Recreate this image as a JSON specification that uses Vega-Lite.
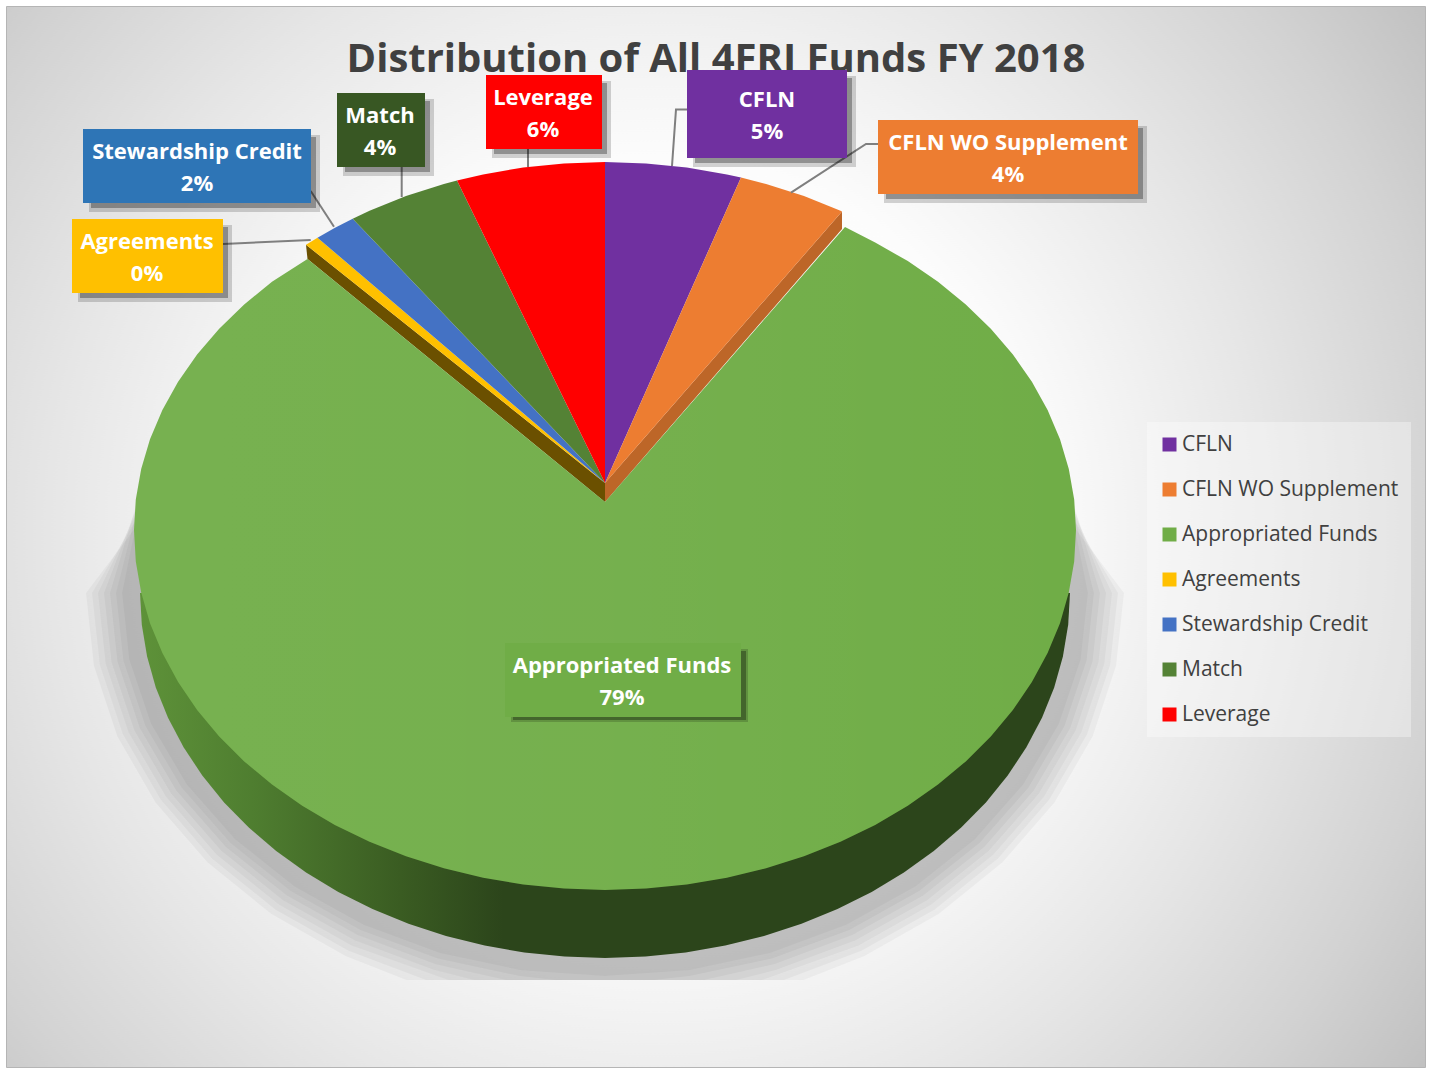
{
"$schema":"https://vega.github.io/schema/vega-lite/v6.json",
"width":1432,"height":1068,"padding":0,"autosize":{"type":"none"},
"background":"#ffffff",
"config":{"view":{"stroke":null},"legend":{"symbolStrokeWidth":0}},
"projection":{"type":"identity","scale":1,"translate":[0,0]},
"datasets":{
"panel":[{"type":"Feature","properties":{"name":"panel"},"geometry":{"type":"MultiPolygon","coordinates":[[[[6.5,6.5],[1425.5,6.5],[1425.5,1067.5],[6.5,1067.5],[6.5,6.5]]],[[[700,-120],[701,-120],[700,-120]]],[[[700,1188],[701,1188],[700,1188]]]]}}],
"floorShadow":[
{"type":"Feature","properties":{"name":"s18"},"geometry":{"type":"Polygon","coordinates":[[[1060,455],[1088,593],[1080.7,659.5],[1058.9,724],[1023.3,784.5],[975,839.2],[915.5,886.4],[846.5,924.7],[770.2,952.9],[688.8,970.2],[605,976],[521.2,970.2],[439.8,952.9],[363.5,924.7],[294.5,886.4],[235,839.2],[186.7,784.5],[151.1,724],[129.3,659.5],[122,593],[150,455],[1060,455]]]}},
{"type":"Feature","properties":{"name":"s24"},"geometry":{"type":"Polygon","coordinates":[[[1062,465],[1094,593],[1086.6,660.5],[1064.5,726],[1028.5,787.5],[979.6,843],[919.3,891],[849.5,929.9],[772.2,958.5],[689.9,976.1],[654,980],[556,980],[520.1,976.1],[437.8,958.5],[360.5,929.9],[290.7,891],[230.4,843],[181.5,787.5],[145.5,726],[123.4,660.5],[116,593],[148,465],[1062,465]]]}},
{"type":"Feature","properties":{"name":"s30"},"geometry":{"type":"Polygon","coordinates":[[[1065,475],[1100,593],[1092.5,661.6],[1070.2,728.1],[1033.7,790.5],[984.2,846.9],[923.2,895.6],[852.5,935.1],[774.3,964.2],[704,980],[506,980],[435.7,964.2],[357.5,935.1],[286.8,895.6],[225.8,846.9],[176.3,790.5],[139.8,728.1],[117.5,661.6],[110,593],[145,475],[1065,475]]]}},
{"type":"Feature","properties":{"name":"s36"},"geometry":{"type":"Polygon","coordinates":[[[1065,485],[1106,593],[1098.4,662.6],[1075.8,730.1],[1038.9,793.5],[988.8,850.8],[927,900.2],[855.5,940.3],[776.3,969.8],[736,980],[474,980],[433.7,969.8],[354.5,940.3],[283,900.2],[221.2,850.8],[171.1,793.5],[134.2,730.1],[111.6,662.6],[104,593],[145,485],[1065,485]]]}},
{"type":"Feature","properties":{"name":"s42"},"geometry":{"type":"Polygon","coordinates":[[[1065,495],[1112,593],[1104.3,663.7],[1081.4,732.2],[1044.1,796.5],[993.4,854.6],[930.9,904.8],[858.5,945.5],[761.7,980],[448.3,980],[351.5,945.5],[279.1,904.8],[216.6,854.6],[165.9,796.5],[128.6,732.2],[105.7,663.7],[98,593],[145,495],[1065,495]]]}},
{"type":"Feature","properties":{"name":"s48"},"geometry":{"type":"Polygon","coordinates":[[[1065,505],[1118,593],[1110.2,664.7],[1087.1,734.3],[1049.3,799.5],[998,858.5],[934.8,909.4],[861.5,950.7],[784,980],[426,980],[348.5,950.7],[275.2,909.4],[212,858.5],[160.7,799.5],[122.9,734.3],[99.8,664.7],[92,593],[145,505],[1065,505]]]}},
{"type":"Feature","properties":{"name":"s54"},"geometry":{"type":"Polygon","coordinates":[[[1065,515],[1124,593],[1116.1,665.8],[1092.7,736.3],[1054.5,802.5],[1002.6,862.3],[938.6,914],[864.5,955.9],[803.6,980],[406.4,980],[345.5,955.9],[271.4,914],[207.4,862.3],[155.5,802.5],[117.3,736.3],[93.9,665.8],[86,593],[145,515],[1065,515]]]}}
],
"rim":[{"type":"Feature","properties":{"name":"Appropriated Funds side"},"geometry":{"type":"Polygon","coordinates":[[[1070,593],[1068.2,624.8],[1062.9,656.4],[1054.2,687.5],[1042,717.8],[1026.4,747.3],[1007.7,775.5],[985.9,802.4],[961.2,827.6],[933.8,851.1],[903.9,872.6],[871.7,892],[837.5,909.1],[801.5,923.8],[764,936],[725.3,945.6],[685.7,952.5],[645.5,956.6],[605,958],[564.5,956.6],[524.3,952.5],[484.7,945.6],[446,936],[408.5,923.8],[372.5,909.1],[338.3,892],[306.1,872.6],[276.2,851.1],[248.8,827.6],[224.1,802.4],[202.3,775.5],[183.6,747.3],[168,717.8],[155.8,687.5],[147.1,656.4],[141.8,624.8],[140,593],[1070,593]]]}}],
"orangeEdge":[{"type":"Feature","properties":{"name":"CFLN WO Supplement side"},"geometry":{"type":"Polygon","coordinates":[[[842,211.5],[842,229],[605,502],[605,483],[842,211.5]]]}}],
"goldEdge":[{"type":"Feature","properties":{"name":"Agreements side"},"geometry":{"type":"Polygon","coordinates":[[[306,244.7],[307.5,259],[605,502],[605,483],[306,244.7]]]}}],
"slices":[
{"type":"Feature","properties":{"name":"Appropriated Funds","share":79},"geometry":{"type":"Polygon","coordinates":[[[605,502],[845,227],[875.2,242.5],[907.8,261.1],[938,281.8],[965.8,304.4],[990.8,328.7],[1012.9,354.5],[1031.9,381.7],[1047.6,410],[1060,439.2],[1068.8,469],[1074.2,499.4],[1076,530],[1074.2,561.4],[1068.8,592.5],[1060,623.2],[1047.6,653.1],[1031.9,682.1],[1012.9,710],[990.8,736.5],[965.8,761.4],[938,784.6],[907.8,805.8],[875.2,824.9],[840.5,841.8],[804,856.3],[766.1,868.3],[726.9,877.7],[686.8,884.5],[646,888.6],[605,890],[564,888.6],[523.2,884.5],[483.1,877.7],[443.9,868.3],[406,856.3],[369.5,841.8],[334.8,824.9],[302.2,805.8],[272,784.6],[244.2,761.4],[219.2,736.5],[197.1,710],[178.1,682.1],[162.4,653.1],[150,623.2],[141.2,592.5],[135.8,561.4],[134,530],[135.8,499.4],[141.2,469],[150,439.2],[162.4,410],[178.1,381.7],[197.1,354.5],[219.2,328.7],[244.2,304.4],[272,281.8],[307.5,259],[605,502]]]}},
{"type":"Feature","properties":{"name":"CFLN","share":5},"geometry":{"type":"Polygon","coordinates":[[[605,483],[605,162],[646,163.4],[686.8,167.5],[726.9,174.4],[741,177.5],[605,483]]]}},
{"type":"Feature","properties":{"name":"CFLN WO Supplement","share":4},"geometry":{"type":"Polygon","coordinates":[[[605,483],[741,177.5],[766.1,184],[804,196.1],[840.5,210.8],[842,211.5],[605,483]]]}},
{"type":"Feature","properties":{"name":"Agreements","share":0},"geometry":{"type":"Polygon","coordinates":[[[605,483],[317.5,237.7],[306,244.7],[605,483]]]}},
{"type":"Feature","properties":{"name":"Stewardship Credit","share":2},"geometry":{"type":"Polygon","coordinates":[[[605,483],[352.7,218.7],[335,227.7],[317.5,237.7],[605,483]]]}},
{"type":"Feature","properties":{"name":"Match","share":4},"geometry":{"type":"Polygon","coordinates":[[[605,483],[457,180.4],[443.9,184],[406,196.1],[369.5,210.8],[352.7,218.7],[605,483]]]}},
{"type":"Feature","properties":{"name":"Leverage","share":6},"geometry":{"type":"Polygon","coordinates":[[[605,483],[605,162],[564,163.4],[523.2,167.5],[483.1,174.4],[457,180.4],[605,483]]]}}
],
"leaders":[
{"type":"Feature","properties":{"name":"Leverage"},"geometry":{"type":"LineString","coordinates":[[528,149],[528,167]]}},
{"type":"Feature","properties":{"name":"Match"},"geometry":{"type":"LineString","coordinates":[[401.7,167],[401.7,197]]}},
{"type":"Feature","properties":{"name":"CFLN"},"geometry":{"type":"LineString","coordinates":[[687,109.5],[676,109.5],[672,166]]}},
{"type":"Feature","properties":{"name":"CFLN WO Supplement"},"geometry":{"type":"LineString","coordinates":[[878,144],[866,144],[791,192.7]]}},
{"type":"Feature","properties":{"name":"Stewardship Credit"},"geometry":{"type":"LineString","coordinates":[[310.7,191],[334,226.7]]}},
{"type":"Feature","properties":{"name":"Agreements"},"geometry":{"type":"LineString","coordinates":[[223,244],[310.7,240]]}}
],
"boxShadowOuter":[
{"type":"Feature","properties":{"name":"CFLN"},"geometry":{"type":"Polygon","coordinates":[[[693,76],[856,76],[856,167],[693,167],[693,76]]]}},
{"type":"Feature","properties":{"name":"Leverage"},"geometry":{"type":"Polygon","coordinates":[[[492,81],[611,81],[611,158],[492,158],[492,81]]]}},
{"type":"Feature","properties":{"name":"Match"},"geometry":{"type":"Polygon","coordinates":[[[343,99],[434,99],[434,176],[343,176],[343,99]]]}},
{"type":"Feature","properties":{"name":"Stewardship Credit"},"geometry":{"type":"Polygon","coordinates":[[[89,135],[320,135],[320,212],[89,212],[89,135]]]}},
{"type":"Feature","properties":{"name":"Agreements"},"geometry":{"type":"Polygon","coordinates":[[[78,225],[232,225],[232,302],[78,302],[78,225]]]}},
{"type":"Feature","properties":{"name":"CFLN WO Supplement"},"geometry":{"type":"Polygon","coordinates":[[[884,126],[1147,126],[1147,203],[884,203],[884,126]]]}},
{"type":"Feature","properties":{"name":"Appropriated Funds"},"geometry":{"type":"Polygon","coordinates":[[[511,649],[748,649],[748,722],[511,722],[511,649]]]}}
],
"boxShadowInner":[
{"type":"Feature","properties":{"name":"CFLN"},"geometry":{"type":"Polygon","coordinates":[[[695,78],[852,78],[852,163],[695,163],[695,78]]]}},
{"type":"Feature","properties":{"name":"Leverage"},"geometry":{"type":"Polygon","coordinates":[[[494,83],[607,83],[607,154],[494,154],[494,83]]]}},
{"type":"Feature","properties":{"name":"Match"},"geometry":{"type":"Polygon","coordinates":[[[345,101],[430,101],[430,172],[345,172],[345,101]]]}},
{"type":"Feature","properties":{"name":"Stewardship Credit"},"geometry":{"type":"Polygon","coordinates":[[[91,137],[316,137],[316,208],[91,208],[91,137]]]}},
{"type":"Feature","properties":{"name":"Agreements"},"geometry":{"type":"Polygon","coordinates":[[[80,227],[228,227],[228,298],[80,298],[80,227]]]}},
{"type":"Feature","properties":{"name":"CFLN WO Supplement"},"geometry":{"type":"Polygon","coordinates":[[[886,128],[1143,128],[1143,199],[886,199],[886,128]]]}},
{"type":"Feature","properties":{"name":"Appropriated Funds"},"geometry":{"type":"Polygon","coordinates":[[[513,651],[746,651],[746,720],[513,720],[513,651]]]}}
],
"boxes":[
{"type":"Feature","properties":{"name":"CFLN"},"geometry":{"type":"Polygon","coordinates":[[[687,70],[847,70],[847,158],[687,158],[687,70]]]}},
{"type":"Feature","properties":{"name":"Leverage"},"geometry":{"type":"Polygon","coordinates":[[[486,75],[602,75],[602,149],[486,149],[486,75]]]}},
{"type":"Feature","properties":{"name":"Match"},"geometry":{"type":"Polygon","coordinates":[[[337,93],[425,93],[425,167],[337,167],[337,93]]]}},
{"type":"Feature","properties":{"name":"Stewardship Credit"},"geometry":{"type":"Polygon","coordinates":[[[83,129],[311,129],[311,203],[83,203],[83,129]]]}},
{"type":"Feature","properties":{"name":"Agreements"},"geometry":{"type":"Polygon","coordinates":[[[72,219],[223,219],[223,293],[72,293],[72,219]]]}},
{"type":"Feature","properties":{"name":"CFLN WO Supplement"},"geometry":{"type":"Polygon","coordinates":[[[878,120],[1138,120],[1138,194],[878,194],[878,120]]]}},
{"type":"Feature","properties":{"name":"Appropriated Funds"},"geometry":{"type":"Polygon","coordinates":[[[505,643],[741,643],[741,717],[505,717],[505,643]]]}}
],
"labels":[
{"name":"CFLN","share":5,"label":"CFLN\n5%","x":767,"y":100},
{"name":"CFLN WO Supplement","share":4,"label":"CFLN WO Supplement\n4%","x":1008,"y":143},
{"name":"Appropriated Funds","share":79,"label":"Appropriated Funds\n79%","x":622,"y":666},
{"name":"Agreements","share":0,"label":"Agreements\n0%","x":147,"y":242},
{"name":"Stewardship Credit","share":2,"label":"Stewardship Credit\n2%","x":197,"y":152},
{"name":"Match","share":4,"label":"Match\n4%","x":380,"y":116},
{"name":"Leverage","share":6,"label":"Leverage\n6%","x":543,"y":98}
],
"heading":[{"label":"Distribution of All 4FRI Funds FY 2018","x":716,"y":60}]
},
"resolve":{"scale":{"fill":"independent"}},
"layer":[
{"data":{"name":"panel"},"mark":{"type":"geoshape","stroke":"#b5b5b5","strokeWidth":1,"fill":{"gradient":"radial","x1":0.46,"y1":0.5,"r1":0,"x2":0.46,"y2":0.5,"r2":0.66,"stops":[{"offset":0,"color":"#ffffff"},{"offset":0.4,"color":"#fcfcfc"},{"offset":0.65,"color":"#e6e6e6"},{"offset":0.85,"color":"#d2d2d2"},{"offset":1,"color":"#c0c0c0"}]}},"encoding":{}},
{"data":{"name":"floorShadow"},"mark":{"type":"geoshape","fill":"#000000","fillOpacity":0.035,"strokeWidth":0},"encoding":{}},
{"data":{"name":"rim"},"mark":{"type":"geoshape","strokeWidth":0,"fill":{"gradient":"linear","x1":0,"y1":0,"x2":1,"y2":0,"stops":[{"offset":0,"color":"#5e9239"},{"offset":0.12,"color":"#4f7e30"},{"offset":0.28,"color":"#3a5c22"},{"offset":0.39,"color":"#2c451b"},{"offset":1,"color":"#2c451b"}]}},"encoding":{}},
{"data":{"name":"orangeEdge"},"mark":{"type":"geoshape","fill":"#bd6628","strokeWidth":0},"encoding":{}},
{"data":{"name":"goldEdge"},"mark":{"type":"geoshape","fill":"#6b5000","strokeWidth":0},"encoding":{}},
{"data":{"name":"slices"},"mark":{"type":"geoshape","strokeWidth":0},"encoding":{"fill":{"field":"properties.name","type":"nominal","scale":{"domain":["CFLN","CFLN WO Supplement","Appropriated Funds","Agreements","Stewardship Credit","Match","Leverage"],"range":["#7030a0","#ed7d31","#70ad47","#ffc000","#4472c4","#548235","#ff0000"]},"legend":{"title":null,"orient":"none","legendX":1147,"legendY":422,"fillColor":"rgba(255,255,255,0.35)","padding":12,"symbolType":"square","symbolSize":196,"symbolStrokeWidth":0,"labelFont":"Open Sans","labelFontSize":21,"labelColor":"#404040","labelOffset":2,"rowPadding":23,"labelLimit":260}}}},
{"data":{"name":"slices"},"transform":[{"filter":"datum.properties.share > 50"}],"mark":{"type":"geoshape","strokeWidth":0,"fill":{"gradient":"linear","x1":0,"y1":0,"x2":1,"y2":0,"stops":[{"offset":0,"color":"rgba(255,255,255,0.05)"},{"offset":0.5,"color":"rgba(255,255,255,0.04)"},{"offset":1,"color":"rgba(255,255,255,0)"}]}},"encoding":{}},
{"data":{"name":"leaders"},"mark":{"type":"geoshape","filled":false,"stroke":"#7f7f7f","strokeWidth":2},"encoding":{}},
{"data":{"name":"heading"},"mark":{"type":"text","font":"Open Sans","fontWeight":700,"fontSize":40,"color":"#404040","align":"center","baseline":"middle"},"encoding":{"longitude":{"field":"x","type":"quantitative"},"latitude":{"field":"y","type":"quantitative"},"text":{"field":"label"}}},
{"data":{"name":"boxShadowOuter"},"mark":{"type":"geoshape","fill":"#000000","fillOpacity":0.17,"strokeWidth":0},"encoding":{}},
{"data":{"name":"boxShadowInner"},"mark":{"type":"geoshape","fill":"#000000","fillOpacity":0.3,"strokeWidth":0},"encoding":{}},
{"data":{"name":"boxes"},"mark":{"type":"geoshape","strokeWidth":0},"encoding":{"fill":{"field":"properties.name","type":"nominal","legend":null,"scale":{"domain":["CFLN","CFLN WO Supplement","Appropriated Funds","Agreements","Stewardship Credit","Match","Leverage"],"range":["#7030a0","#ed7d31","#70ad47","#ffc000","#2e75b6","#385723","#ff0000"]}}}},
{"data":{"name":"labels"},"mark":{"type":"text","font":"Open Sans","fontWeight":700,"fontSize":22,"color":"#ffffff","align":"center","baseline":"middle","lineBreak":"\n","lineHeight":32},"encoding":{"longitude":{"field":"x","type":"quantitative"},"latitude":{"field":"y","type":"quantitative"},"text":{"field":"label"}}}
]
}
